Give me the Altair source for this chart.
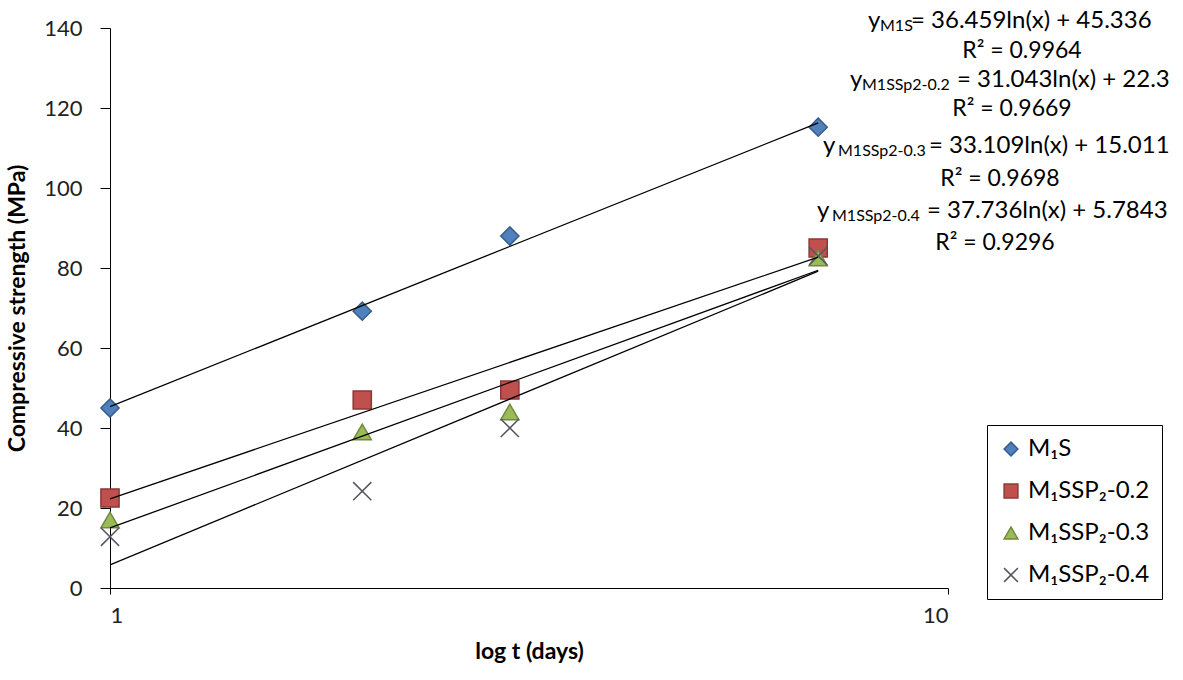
import altair as alt
import numpy as np
import pandas as pd

# ---------------- data ----------------
days = [1, 2, 3, 7]
series_names = ["M₁S", "M₁SSP₂-0.2", "M₁SSP₂-0.3", "M₁SSP₂-0.4"]
m1s = [45, 69.2, 88, 115.2]
ssp_02 = [22.5, 47, 49.5, 85]
ssp_03 = [17, 39, 44, 82.5]
ssp_04 = [12.8, 24.2, 40, 83]

slopes = [36.459, 31.043, 33.109, 37.736]
intercepts = [45.336, 22.3, 15.011, 5.7843]
trend_days = [1, 7]

eq_subscripts = ["M1S", "M1SSp2-0.2", "M1SSp2-0.3", "M1SSp2-0.4"]
eq_rhs = ["= 36.459ln(x) + 45.336", "= 31.043ln(x) + 22.3",
          "= 33.109ln(x) + 15.011", "= 37.736ln(x) + 5.7843"]
r2_labels = ["R² = 0.9964", "R² = 0.9669", "R² = 0.9698", "R² = 0.9296"]

# ---------------- layout / style ----------------
FONT = "Lato"
fills = ["#4F81BD", "#C0504D", "#9BBB59", "transparent"]
strokes = ["#385D8A", "#8C3836", "#71893F", "#555560"]
shapes = ["diamond", "square", "triangle-up", "M-1,-1L1,1M-1,1L1,-1"]
# annotation anchors in plot pixels: (y_x, sub_x, rhs_x, baseline, r2_center_x, r2_baseline)
eq_layout = [
    (758, 770, 801, 0, 912, 30),
    (740, 752, 847, 59, 902, 88),
    (713, 728, 819, 125, 890, 158),
    (707, 722, 817, 190, 885, 222),
]

rows = []
for name, vals in zip(series_names, [m1s, ssp_02, ssp_03, ssp_04]):
    for d, v in zip(days, vals):
        rows.append({"series": name, "t": d, "strength": v})
points_df = pd.DataFrame(rows)

trend_rows = []
for name, a, b in zip(series_names, slopes, intercepts):
    for d in trend_days:
        trend_rows.append({"series": name, "t": d, "fit": a * np.log(d) + b})
trend_df = pd.DataFrame(trend_rows)

x_scale = alt.Scale(type="log", domain=[1, 10])
y_scale = alt.Scale(domain=[0, 140])

legend = alt.Legend(
    title=None, orient="none", legendX=877, legendY=397,
    strokeColor="#000000", fillColor="white", padding=12,
    labelFont=FONT, labelFontSize=24, labelColor="#000000",
    symbolSize=190, symbolStrokeWidth=1.5, rowPadding=18, labelOffset=5,
)

x_axis = alt.Axis(
    values=[1, 10], title="log t (days)", titleFont=FONT, titleFontSize=23,
    titleFontWeight="bold", titleColor="#000000", titlePadding=14,
    labelFont=FONT, labelFontSize=22, labelColor="#222222", labelPadding=11,
    tickSize=6, tickColor="#000000", domainColor="#000000", grid=False,
    format="d",
)
y_axis = alt.Axis(
    values=list(range(0, 141, 20)), title="Compressive strength (MPa)",
    titleFont=FONT, titleFontSize=23, titleFontWeight="bold",
    titleColor="#000000", titlePadding=14,
    labelFont=FONT, labelFontSize=22, labelColor="#222222", labelPadding=18,
    tickSize=10, tickColor="#000000", domainColor="#000000", grid=False,
)

points = alt.Chart(points_df).mark_point(filled=True, opacity=1, strokeWidth=1.5).encode(
    x=alt.X("t:Q", scale=x_scale, axis=x_axis),
    y=alt.Y("strength:Q", scale=y_scale, axis=y_axis),
    shape=alt.Shape("series:N", scale=alt.Scale(domain=series_names, range=shapes), legend=legend),
    fill=alt.Fill("series:N", scale=alt.Scale(domain=series_names, range=fills), legend=legend),
    stroke=alt.Stroke("series:N", scale=alt.Scale(domain=series_names, range=strokes), legend=legend),
    size=alt.value(330),
)

lines = alt.Chart(trend_df).mark_line(color="#000000", strokeWidth=1.3).encode(
    x=alt.X("t:Q", scale=x_scale),
    y=alt.Y("fit:Q", scale=y_scale),
    detail="series:N",
)

layers = [points, lines]
for sub, rhs, r2, (yx, sx, rx, base, r2x, r2b) in zip(eq_subscripts, eq_rhs, r2_labels, eq_layout):
    layers.append(alt.Chart(pd.DataFrame({"label": ["y"]})).mark_text(
        font=FONT, fontSize=24, align="left", baseline="alphabetic", color="#000000"
    ).encode(x=alt.value(yx), y=alt.value(base), text="label:N"))
    layers.append(alt.Chart(pd.DataFrame({"label": [sub]})).mark_text(
        font=FONT, fontSize=16, align="left", baseline="alphabetic", color="#000000"
    ).encode(x=alt.value(sx), y=alt.value(base + 3), text="label:N"))
    layers.append(alt.Chart(pd.DataFrame({"label": [rhs]})).mark_text(
        font=FONT, fontSize=24, align="left", baseline="alphabetic", color="#000000"
    ).encode(x=alt.value(rx), y=alt.value(base), text="label:N"))
    layers.append(alt.Chart(pd.DataFrame({"label": [r2]})).mark_text(
        font=FONT, fontSize=23, align="center", baseline="alphabetic", color="#000000"
    ).encode(x=alt.value(r2x), y=alt.value(r2b), text="label:N"))

chart = alt.layer(*layers).properties(
    width=838, height=560,
    padding={"left": 110, "top": 28, "right": 235, "bottom": 92},
    autosize="none", background="white",
).configure_view(stroke=None)

chart.save("out.html", embed_options={"renderer": "svg", "actions": False})
